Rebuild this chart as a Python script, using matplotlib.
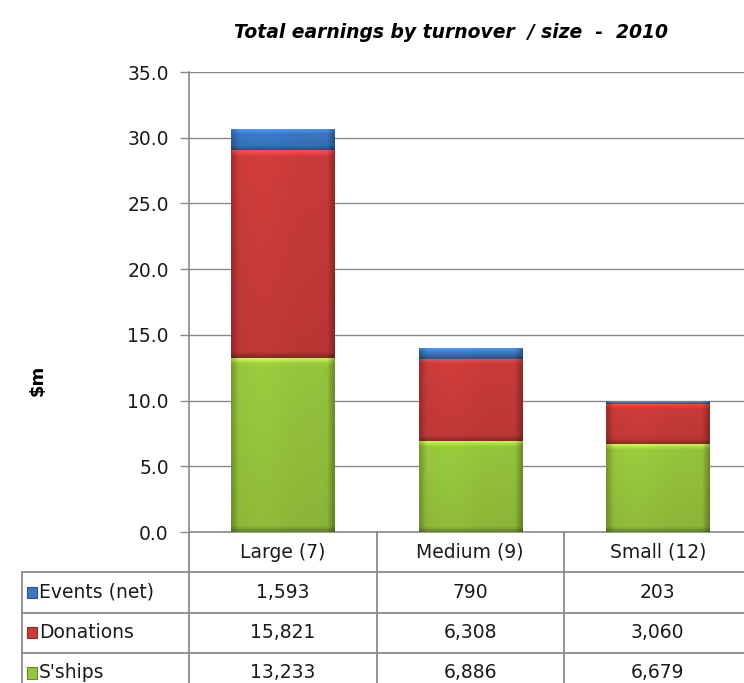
import matplotlib
matplotlib.use("Agg")
import matplotlib.pyplot as plt
import matplotlib.colors as mcolors
import numpy as np

# Datos (miles de dólares)
categorias = ["Large (7)", "Medium (9)", "Small (12)"]
series = ["Events (net)", "Donations", "S'ships"]
events = [1593, 790, 203]
donations = [15821, 6308, 3060]
sships = [13233, 6886, 6679]

colores = {"S'ships": "#96c43c", "Donations": "#c93b3a", "Events (net)": "#3b77c2"}
gris = "#8a8a8a"

plt.rcParams['font.family'] = ['DejaVu Sans']

W, H = 744, 683
fig = plt.figure(figsize=(W / 100, H / 100), dpi=100)

# Área del gráfico
x0, x1 = 189, 751.5
y_top, y_cero = 72, 532
ax = fig.add_axes([x0 / W, (H - y_cero) / H, (x1 - x0) / W, (y_cero - y_top) / H])


def sombrear(ax, barra, color):
    # degradado tipo bisel sobre cada segmento
    x, y = barra.get_x(), barra.get_y()
    w, h = barra.get_width(), barra.get_height()
    if h <= 0:
        return
    base = np.array(mcolors.to_rgb(color))
    nx, ny = 60, 80
    u = np.linspace(0, 1, nx)
    fx = 1.0 - 0.22 * np.clip(1 - u / 0.07, 0, 1) - 0.28 * np.clip(1 - (1 - u) / 0.07, 0, 1)
    fx = fx + 0.04 * np.exp(-((u - 0.3) / 0.25) ** 2)
    alto_px = h * (y_cero - y_top) / 35.0
    borde = min(0.5, 5.0 / max(alto_px, 1))
    v = np.linspace(0, 1, ny)  # 0 = arriba
    fy = 1.0 + 0.25 * np.clip(1 - v / borde, 0, 1) - 0.25 * np.clip(1 - (1 - v) / borde, 0, 1)
    fy = fy - 0.08 * v
    img = np.clip(base[None, None, :] * fy[:, None, None] * fx[None, :, None], 0, 1)
    im = ax.imshow(img, extent=(x, x + w, y, y + h), aspect='auto', zorder=3,
                   interpolation='bilinear', origin='upper')
    im.set_clip_path(barra)


cats = np.arange(len(categorias))
ancho = 0.55
abajo = np.zeros(len(categorias))
for nombre, valores in [("S'ships", sships), ("Donations", donations), ("Events (net)", events)]:
    vals = np.array(valores) / 1000.0
    barras = ax.bar(cats, vals, ancho, bottom=abajo, color=colores[nombre], zorder=2,
                    linewidth=0)
    for b in barras:
        sombrear(ax, b, colores[nombre])
    abajo += vals

ax.set_xlim(-0.5, 2.5)
ax.set_ylim(0, 35)
ax.set_yticks(np.arange(0, 36, 5))
ax.set_yticklabels([f"{t:.1f}" for t in np.arange(0, 36, 5)], fontsize=13.5, color="#1a1a1a")
ax.set_xticks([])
ax.tick_params(axis='y', direction='out', length=6.5, width=1, color=gris, pad=8)
ax.grid(axis='y', color=gris, linewidth=1)
ax.set_axisbelow(True)
for lado in ["top", "right"]:
    ax.spines[lado].set_visible(False)
ax.spines["left"].set_color(gris)
ax.spines["bottom"].set_color(gris)
ax.spines["left"].set_linewidth(1.2)
ax.spines["bottom"].set_linewidth(1.2)
ax.patch.set_alpha(0)

fig.text(38 / W, 1 - 380 / H, "$m", rotation=90, fontsize=13, fontweight='bold',
         ha='center', va='center')
fig.text(451 / W, 1 - 33 / H, "Total earnings by turnover  / size  -  2010", fontsize=13.5,
         fontweight='bold', fontstyle='italic', ha='center', va='center')

# Tabla de datos
t_izq = 22
izq_u = -0.5 - (x0 - t_izq) / ((x1 - x0) / 3)
tx = fig.add_axes([t_izq / W, (H - 693) / H, (x1 - t_izq) / W, 161 / H])
tx.set_xlim(izq_u, 2.5)
tx.set_ylim(4, 0)
tx.axis('off')

lw = 1.3
for r in [1, 2, 3]:
    tx.plot([izq_u, 2.5], [r, r], color=gris, lw=lw, clip_on=False)
tx.plot([izq_u, izq_u], [1, 4], color=gris, lw=lw, clip_on=False)
for xv in [-0.5, 0.5, 1.5]:
    tx.plot([xv, xv], [0, 4], color=gris, lw=lw, clip_on=False)

for i, c in enumerate(categorias):
    tx.text(i, 0.5, c, ha='center', va='center', fontsize=13.5, color="#1a1a1a")

filas = [("Events (net)", events), ("Donations", donations), ("S'ships", sships)]
u_px = (x1 - x0) / 3
for r, (nombre, valores) in enumerate(filas):
    yc = r + 1.5
    mx = izq_u + 5 / u_px
    tx.add_patch(plt.Rectangle((mx, yc - 0.14), 10 / u_px, 0.28,
                               facecolor=colores[nombre], edgecolor=mcolors.to_hex(
                                   np.array(mcolors.to_rgb(colores[nombre])) * 0.7),
                               lw=0.8, clip_on=False))
    tx.text(izq_u + 17 / u_px, yc, nombre, ha='left', va='center', fontsize=13.5,
            color="#1a1a1a")
    for i, v in enumerate(valores):
        tx.text(i, yc, f"{v:,}", ha='center', va='center', fontsize=13.5, color="#1a1a1a")

fig.savefig("out.png", dpi=100)
